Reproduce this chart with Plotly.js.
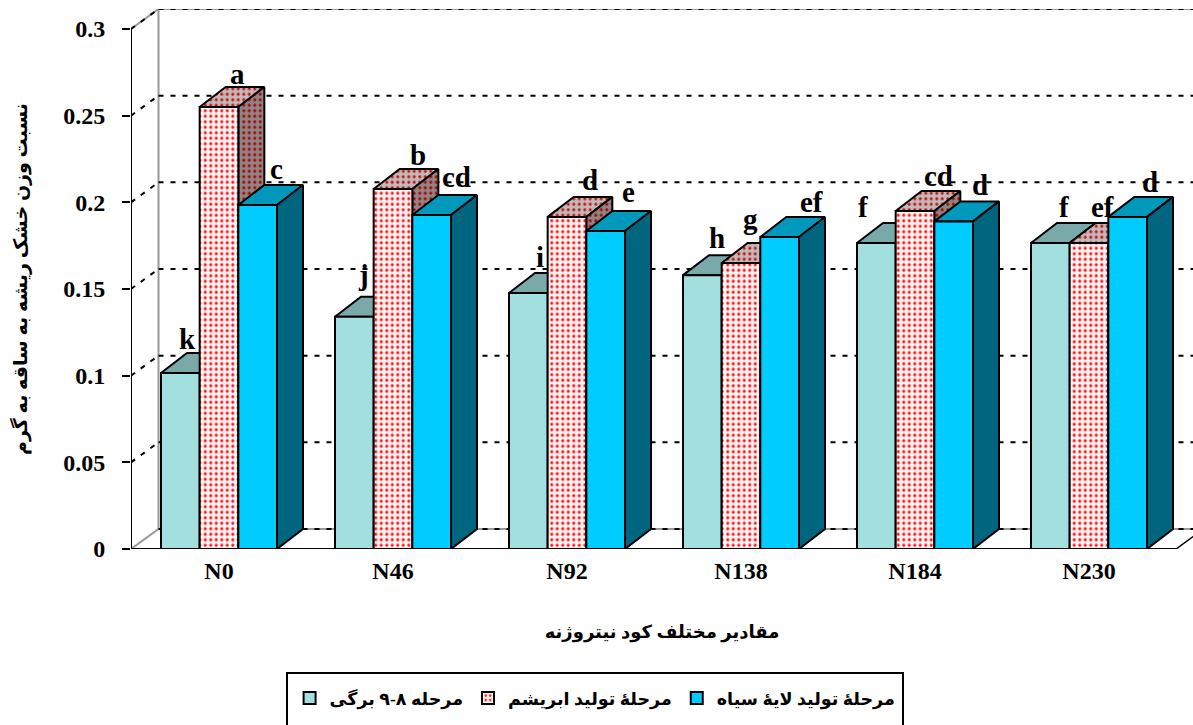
<!DOCTYPE html>
<html><head><meta charset="utf-8">
<script src="https://cdn.plot.ly/plotly-3.0.1.min.js"></script>
<style>html,body{margin:0;padding:0;background:#fff}</style></head>
<body><div id="chart" style="width:1193px;height:725px"></div>
<script>
var categories = ['N0','N46','N92','N138','N184','N230'];
var seriesNames = ['مرحله ۸-۹ برگی','مرحلهٔ تولید ابریشم','مرحلهٔ تولید لایهٔ سیاه'];
var leafStage = [0.1015,0.134,0.1477,0.158,0.1765,0.1765];
var silkStage = [0.255,0.2077,0.1916,0.165,0.195,0.1765];
var blackLayerStage = [0.1985,0.1927,0.1835,0.18,0.189,0.1916];
var leafLetters = ['k','j','i','h','f','f'];
var silkLetters = ['a','b','d','g','cd','ef'];
var blackLetters = ['c','cd','e','ef','d','d'];
var tickValues = [0,0.05,0.1,0.15,0.2,0.25,0.3];
var tickLabels = ['0','0.05','0.1','0.15','0.2','0.25','0.3'];

var values=[leafStage,silkStage,blackLayerStage], letters=[leafLetters,silkLetters,blackLetters];
var pxX=174, pxY=520/0.3, dx=26/pxX, dy=20/pxY, w=1/4.5;
var x0=-0.5-1/pxX, xEnd=x0+1045/pxX, xHi=x0+1062/pxX, yHi=0.3+dy, wallDx=27.5/pxX;
var xIdx=categories.map(function(_,i){return i;});
var front=[{color:'#A4DFDF'},{color:'#FFF2F2',fg:'#FF1010'},{color:'#00CCFF'}];
var topC=[{color:'#7AA9A9'},{color:'#C0BABA',fg:'#C81010'},{color:'#0099BB'}];
var sideC=[{color:'#5F8F8F'},{color:'#8E8686',fg:'#B00000'},{color:'#006680'}];
var nudgeX=[[-5,6,7],[-3,13,13],[0,11,11],[3,-3,20],[-25,11,14],[2,1,10]];
var nudgeY=[[14,13,16],[22,14,18],[16,17,19],[17,24,15],[16,15,16],[16,16,15]];

var traces=[];
var gx=[],gy=[];
tickValues.forEach(function(v){gx.push(x0+wallDx,xHi,null);gy.push(v+dy,v+dy,null);});
var wx=[x0,x0+wallDx,x0+wallDx,x0,null,x0+wallDx,xHi,null,x0+wallDx,xHi];
var wy=[0.3,yHi,dy,0,null,dy,dy,null,yHi,yHi];
traces.push({type:'scatter',mode:'lines',x:wx,y:wy,line:{color:'#999999',width:2},showlegend:false,hoverinfo:'skip',zorder:0,cliponaxis:false});
traces.push({type:'scatter',mode:'lines',x:gx,y:gy,line:{color:'#000',width:2,dash:'5px,7px'},showlegend:false,hoverinfo:'skip',zorder:0,cliponaxis:false});
var dgx=[],dgy=[];
tickValues.slice(1).forEach(function(v){dgx.push(x0,x0+wallDx,null);dgy.push(v,v+dy,null);});
traces.push({type:'scatter',mode:'lines',x:dgx,y:dgy,line:{color:'#000',width:2,dash:'5px,7px'},showlegend:false,hoverinfo:'skip',zorder:0,cliponaxis:false});
traces.push({type:'scatter',mode:'lines',x:[xEnd,xEnd+wallDx],y:[0,dy],line:{color:'#000',width:1.5},showlegend:false,hoverinfo:'skip',zorder:0,cliponaxis:false});

values.forEach(function(vals,s){
  var tx=[],ty=[],sx=[],sy=[];
  vals.forEach(function(v,i){
    var l=i+(s-1.5)*w,r=l+w;
    tx.push(l,l+dx,r+dx,r,l,null);ty.push(v,v+dy,v+dy,v,v,null);
    sx.push(r,r+dx,r+dx,r,r,null);sy.push(0,dy,v+dy,v,0,null);
  });
  function poly(x,y,c){
    var t={type:'scatter',mode:'lines',x:x,y:y,fill:'toself',fillcolor:c.color,line:{color:'#000',width:2},showlegend:false,hoverinfo:'skip',zorder:2*s+1,cliponaxis:false};
    if(c.fg){t.fillpattern={shape:'.',size:5.5,solidity:0.24,fgcolor:c.fg,bgcolor:c.color};}
    return t;
  }
  traces.push(poly(tx,ty,topC[s]));
  traces.push(poly(sx,sy,sideC[s]));
  var m={color:front[s].color,line:{color:'#000',width:2}};
  if(front[s].fg){m.pattern={shape:'.',size:5.5,solidity:0.24,fgcolor:front[s].fg,bgcolor:front[s].color};}
  traces.push({type:'bar',x:xIdx,y:vals,name:seriesNames[s],marker:m,zorder:2*s+2});
});
traces.push({type:'scatter',mode:'lines',x:[x0,x0,null,x0,xEnd],y:[0.3,0,null,0,0],line:{color:'#000',width:2},showlegend:false,hoverinfo:'skip',zorder:9,cliponaxis:false});

var annotations=[];
values.forEach(function(vals,s){vals.forEach(function(v,i){
  annotations.push({x:i+(s-1)*w+dx/2,y:v+dy,text:letters[s][i],showarrow:false,xanchor:'center',yanchor:'middle',
    xshift:nudgeX[i][s]-1,yshift:nudgeY[i][s],font:{family:'Liberation Serif',size:29,color:'#000',weight:700}});
});});

var ff='"Liberation Serif","DejaVu Sans",serif';
Plotly.newPlot('chart',traces,{
  width:1193,height:725,paper_bgcolor:'#fff',plot_bgcolor:'#fff',
  margin:{l:131,r:0,t:9,b:176},
  barmode:'group',bargap:1/3,bargroupgap:0,
  font:{family:ff,color:'#000'},
  xaxis:{range:[x0,xHi],tickvals:xIdx,ticktext:categories,showgrid:false,zeroline:false,showline:false,ticks:'',
    ticklabelstandoff:5,tickfont:{family:'Liberation Serif',size:24,weight:700},
    title:{text:'مقادیر مختلف کود نیتروژنه\u00A0\u00A0',font:{size:18,weight:700},standoff:42}},
  yaxis:{range:[0,yHi],tickvals:tickValues,ticktext:tickLabels,showgrid:false,zeroline:false,showline:false,ticks:'outside',ticklen:8,tickwidth:2,tickcolor:'#000',
    ticklabelstandoff:12,tickfont:{family:'Liberation Serif',size:24,weight:700},
    title:{text:'نسبت وزن خشک ریشه به ساقه به گرم\u00A0\u00A0',font:{size:19,weight:700},standoff:30}},
  legend:{orientation:'h',x:0.437,xanchor:'center',y:-0.2426,yanchor:'top',borderwidth:0,bgcolor:'rgba(0,0,0,0)',
    font:{size:17.5,weight:700},traceorder:'normal'},
  shapes:[{type:'rect',xref:'paper',yref:'paper',layer:'below',x0:(287-131)/1062,x1:(903-131)/1062,y0:(549-735)/540,y1:(549-673)/540,line:{color:'#000',width:2},fillcolor:'#fff'}],
  annotations:annotations,showlegend:true
},{displayModeBar:false});
</script></body></html>
